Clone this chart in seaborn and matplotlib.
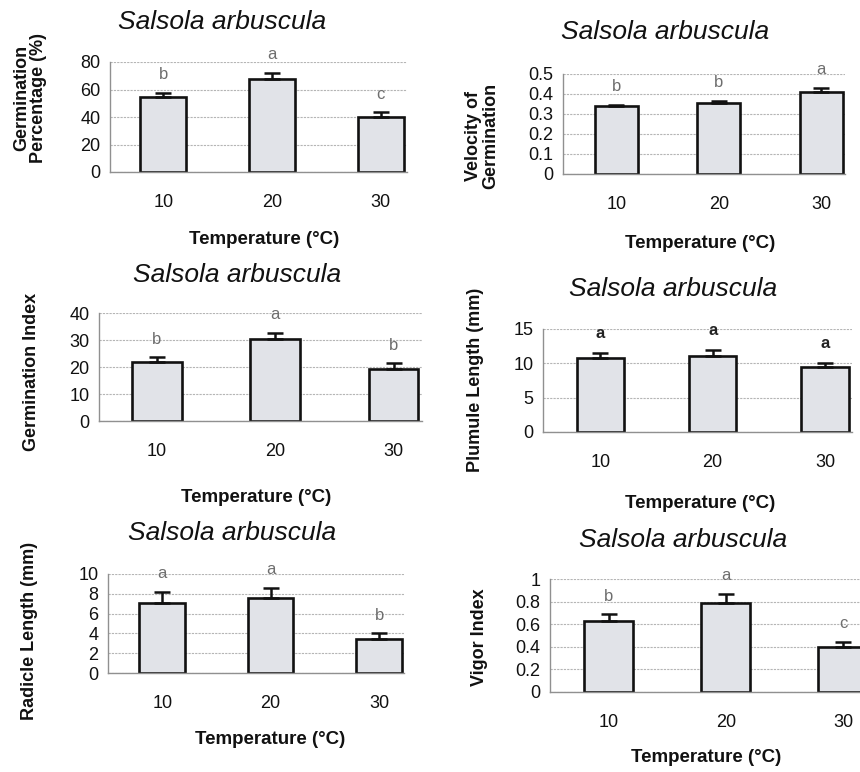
import numpy as np
import pandas as pd
import seaborn as sns
import matplotlib.pyplot as plt

# values (means, upper error bars, letters)
temps = ["10", "20", "30"]

germ_pct = [54.5, 68.0, 40.0]
germ_pct_err = [3.0, 4.0, 3.5]
germ_pct_lbl = ["b", "a", "c"]

velocity = [0.340, 0.355, 0.410]
velocity_err = [0.005, 0.010, 0.020]
velocity_lbl = ["b", "b", "a"]

germ_index = [21.7, 30.3, 19.1]
germ_index_err = [1.9, 2.3, 2.3]
germ_index_lbl = ["b", "a", "b"]

plumule = [10.75, 11.1, 9.4]
plumule_err = [0.75, 0.8, 0.65]
plumule_lbl = ["a", "a", "a"]

radicle = [7.05, 7.55, 3.45]
radicle_err = [1.15, 1.05, 0.55]
radicle_lbl = ["a", "a", "b"]

vigor = [0.625, 0.787, 0.395]
vigor_err = [0.062, 0.083, 0.050]
vigor_lbl = ["b", "a", "c"]

sns.set_style("white")
plt.rcParams['font.family'] = ['Liberation Sans', 'DejaVu Sans']

W, H = 860, 772
fig = plt.figure(figsize=(W / 100, H / 100), dpi=100)


def fx(x):
    return x / W


def fy(y):
    return 1 - y / H


def panel(vals, errs, lbls, box, xlim, ymax, yticks, ylabel, ylab_xy,
          title_xy, xlab_xy, bold_lbl=False):
    left, top, right, bottom = box
    ax = fig.add_axes([fx(left), fy(bottom), (right - left) / W, (bottom - top) / H])
    df = pd.DataFrame({"temp": temps, "val": vals})
    sns.barplot(data=df, x="temp", y="val", ax=ax, color="#e1e3e8",
                edgecolor="#111111", linewidth=1.9, width=0.42, errorbar=None,
                saturation=1)
    ax.errorbar(range(3), vals, yerr=[np.zeros(3), errs], fmt="none",
                ecolor="#111111", elinewidth=1.8, capsize=6, capthick=1.8, zorder=5)
    for i, (v, e, l) in enumerate(zip(vals, errs, lbls)):
        if bold_lbl:
            ax.annotate(l, (i, v + e), xytext=(0, 14), textcoords="offset points",
                        ha="center", va="center", fontsize=12, fontweight="bold",
                        color="#222222", annotation_clip=False)
        else:
            ax.annotate(l, (i, v + e), xytext=(0, 13), textcoords="offset points",
                        ha="center", va="center", fontsize=12, color="#6e6e6e",
                        annotation_clip=False)
    ax.set_xlim(*xlim)
    ax.set_ylim(0, ymax)
    ax.set_yticks(yticks)
    ax.set_yticklabels([f"{t:g}" for t in yticks])
    ax.yaxis.grid(True, color="#b5b5b5", linestyle=(0, (2, 1)), linewidth=0.8)
    ax.set_axisbelow(True)
    ax.set_xlabel("")
    ax.set_ylabel("")
    for s in ["top", "right"]:
        ax.spines[s].set_visible(False)
    for s in ["left", "bottom"]:
        ax.spines[s].set_color("#909090")
        ax.spines[s].set_linewidth(1.0)
    ax.set_xticks([xlim[0] + 0.01, 0.5, 1.5], minor=True)
    ax.tick_params(axis="x", which="major", length=0, pad=16, labelsize=13,
                   labelcolor="#111111")
    ax.tick_params(axis="x", which="minor", length=5, width=1, color="#909090",
                   direction="out")
    ax.tick_params(axis="y", length=4, width=1, color="#909090", pad=3,
                   labelsize=13, labelcolor="#111111")
    fig.text(fx(title_xy[0]), fy(title_xy[1]), "Salsola arbuscula", ha="center",
             va="center", fontsize=19, style="italic", color="#111111")
    fig.text(fx(xlab_xy[0]), fy(xlab_xy[1]), "Temperature (°C)", ha="center",
             va="center", fontsize=13.5, fontweight="bold", color="#111111")
    fig.text(fx(ylab_xy[0]), fy(ylab_xy[1]), ylabel, ha="center", va="center",
             rotation=90, fontsize=13, fontweight="bold", color="#111111",
             linespacing=1.0, multialignment="center")
    return ax


panel(germ_pct, germ_pct_err, germ_pct_lbl, (110, 62, 407, 172), (-0.49, 2.24),
      80, [0, 20, 40, 60, 80], "Germination\nPercentage (%)", (30, 98),
      (222, 22), (264, 240))
panel(velocity, velocity_err, velocity_lbl, (563, 74, 845, 174), (-0.52, 2.23),
      0.5, [0, 0.1, 0.2, 0.3, 0.4, 0.5], "Velocity of\nGermination", (482, 136),
      (665, 32), (700, 243))
panel(germ_index, germ_index_err, germ_index_lbl, (99, 313, 422, 421), (-0.49, 2.24),
      40, [0, 10, 20, 30, 40], "Germination Index", (32, 372),
      (237, 275), (256, 498))
panel(plumule, plumule_err, plumule_lbl, (543, 329, 852, 432), (-0.51, 2.24),
      15, [0, 5, 10, 15], "Plumule Length (mm)", (475, 380),
      (673, 289), (700, 503), bold_lbl=True)
panel(radicle, radicle_err, radicle_lbl, (108, 574, 404, 673), (-0.5, 2.23),
      10, [0, 2, 4, 6, 8, 10], "Radicle Length (mm)", (29, 631),
      (232, 533), (270, 740))
panel(vigor, vigor_err, vigor_lbl, (550, 579, 860, 692), (-0.5, 2.145),
      1, [0, 0.2, 0.4, 0.6, 0.8, 1], "Vigor Index", (480, 637),
      (683, 540), (706, 758))

fig.savefig("out.png", dpi=100, facecolor="white")
